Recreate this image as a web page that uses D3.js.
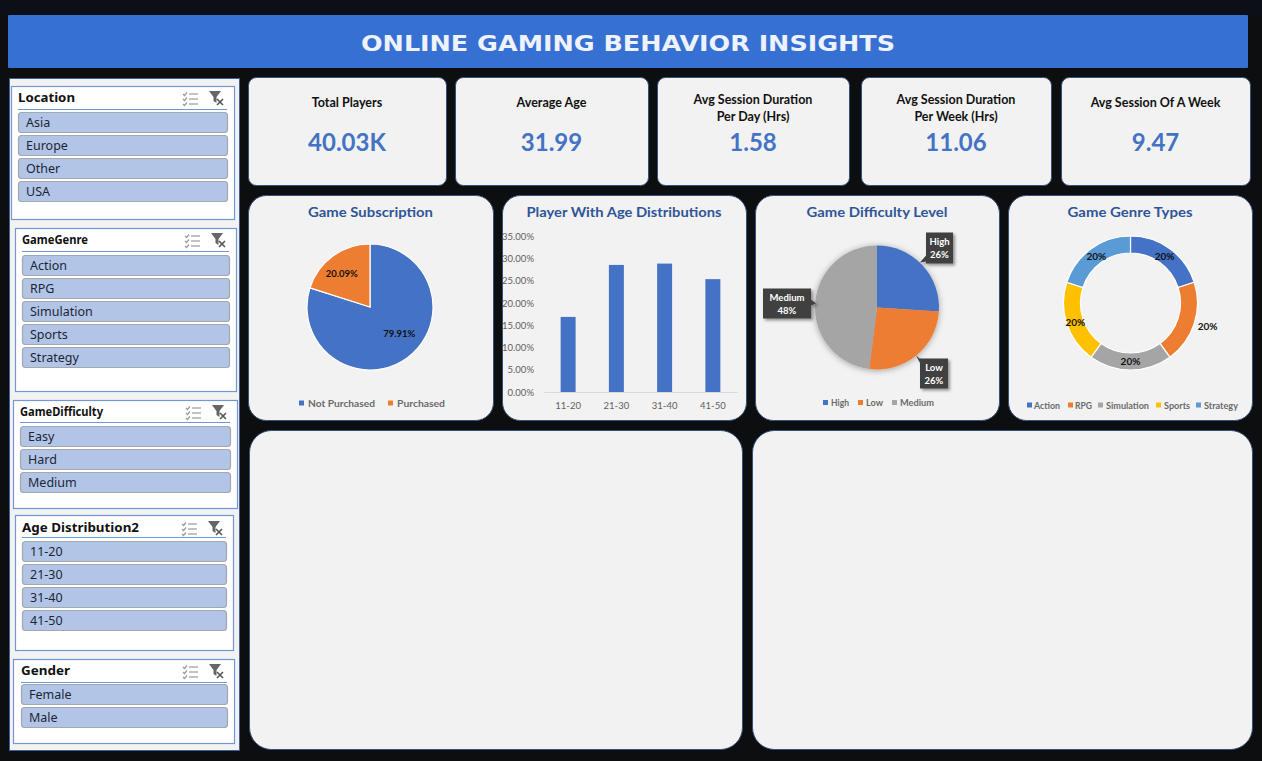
<!DOCTYPE html>
<html>
<head>
<meta charset="utf-8">
<title>Online Gaming Behavior Insights</title>
<script src="https://cdn.jsdelivr.net/npm/d3@7"></script>
<style>
  html, body { margin: 0; padding: 0; background: #0d0e10; overflow: hidden; }
  svg { display: block; }
  text { font-family: Lato, "Open Sans", sans-serif; }
  .slicer-item { font-family: "Noto Sans", sans-serif; font-size: 12.5px; fill: #1c2536; }
  .slicer-title { font-family: "Noto Sans", sans-serif; font-weight: 700; fill: #111; }
  .legend-text { font-size: 9.5px; font-weight: 700; fill: #6a6a6a; }
  .axis-tick { font-size: 9.5px; fill: #5f5f5f; }
</style>
</head>
<body>
<div id="dashboard"></div>
<script>
// Data
const titleText = "ONLINE GAMING BEHAVIOR INSIGHTS";

const kpiLabels = [["Total Players"], ["Average Age"], ["Avg Session Duration", "Per Day (Hrs)"], ["Avg Session Duration", "Per Week (Hrs)"], ["Avg Session Of A Week"]];
const kpiValues = ["40.03K", "31.99", "1.58", "11.06", "9.47"];

const locations = ["Asia", "Europe", "Other", "USA"];
const gameGenres = ["Action", "RPG", "Simulation", "Sports", "Strategy"];
const gameDifficulties = ["Easy", "Hard", "Medium"];
const ageGroups = ["11-20", "21-30", "31-40", "41-50"];
const genders = ["Female", "Male"];

const subscriptionLabels = ["Not Purchased", "Purchased"];
const subscriptionValues = [79.91, 20.09];

const ageTicks = [0, 5, 10, 15, 20, 25, 30, 35];
const agePercents = [16.9, 28.6, 28.9, 25.4];

const difficultyLabels = ["High", "Low", "Medium"];
const difficultyValues = [26, 26, 48];

const genreLabels = gameGenres;
const genreValues = [20, 20, 20, 20, 20];

// Colours
const officeColors = ["#4472c4", "#ed7d31", "#a5a5a5", "#ffc000", "#5b9bd5"];
const cardFill = "#f2f2f2";
const cardStroke = "#34507c";
const titleBlue = "#2f5597";

// Layout
const width = 1262, height = 761;

const kpiCards = [
  { x: 248, w: 198 }, { x: 455, w: 193 }, { x: 657, w: 192 }, { x: 861, w: 190 }, { x: 1061, w: 189 }
];
const chartCards = [
  { x: 248, w: 245 }, { x: 502, w: 244 }, { x: 755, w: 244 }, { x: 1008, w: 244 }
];
const chartTitles = [
  { text: "Game Subscription", len: 125 },
  { text: "Player With Age Distributions", len: 195 },
  { text: "Game Difficulty Level", len: 141 },
  { text: "Game Genre Types", len: 125 }
];
const slicers = [
  { title: "Location", items: locations, x: 11, y: 86, w: 223, h: 133, ix: 18, iw: 209, titleLen: 57, titleSize: 13, titleY: 102, ruleY: 109, itemY: 112 },
  { title: "GameGenre", items: gameGenres, x: 15, y: 228, w: 221, h: 163, ix: 22, iw: 207, titleLen: 66, titleSize: 12, titleY: 244, ruleY: 251, itemY: 255 },
  { title: "GameDifficulty", items: gameDifficulties, x: 13, y: 400, w: 224, h: 108, ix: 20, iw: 210, titleLen: 83, titleSize: 12, titleY: 416, ruleY: 422, itemY: 426 },
  { title: "Age Distribution2", items: ageGroups, x: 15, y: 515, w: 218, h: 135, ix: 22, iw: 204, titleLen: 117, titleSize: 13, titleY: 532, ruleY: 537, itemY: 541 },
  { title: "Gender", items: genders, x: 13, y: 659, w: 221, h: 84, ix: 21, iw: 206, titleLen: 49, titleSize: 13, titleY: 675, ruleY: 682, itemY: 684 }
];

const svg = d3.select("#dashboard").append("svg")
  .attr("width", width)
  .attr("height", height);

const defs = svg.append("defs");
defs.append("filter").attr("id", "pieShadow")
  .attr("x", "-20%").attr("y", "-20%").attr("width", "140%").attr("height", "140%")
  .append("feDropShadow")
  .attr("dx", 0).attr("dy", 1).attr("stdDeviation", 3)
  .attr("flood-color", "#000").attr("flood-opacity", 0.35);
defs.append("filter").attr("id", "boxShadow")
  .attr("x", "-30%").attr("y", "-30%").attr("width", "160%").attr("height", "160%")
  .append("feDropShadow")
  .attr("dx", 2).attr("dy", 2).attr("stdDeviation", 1.5)
  .attr("flood-color", "#000").attr("flood-opacity", 0.4);

// Page background and top strip
svg.append("rect").attr("width", width).attr("height", height).attr("fill", "#0d0e10");
svg.append("rect").attr("width", width).attr("height", 14).attr("fill", "#0c0f18");

// Banner
svg.append("rect")
  .attr("x", 8).attr("y", 15).attr("width", 1240).attr("height", 53).attr("rx", 1)
  .attr("fill", "#3670d2");
svg.append("text")
  .attr("x", 361).attr("y", 51)
  .attr("textLength", 534).attr("lengthAdjust", "spacingAndGlyphs")
  .style("font-family", "'DejaVu Sans', sans-serif")
  .style("font-size", "22px").style("font-weight", 700)
  .attr("fill", "#eef2fb")
  .text(titleText);

// Cards
function card(x, y, w, h, r) {
  return svg.append("rect")
    .attr("x", x + 0.5).attr("y", y + 0.5).attr("width", w).attr("height", h).attr("rx", r)
    .attr("fill", cardFill).attr("stroke", cardStroke).attr("stroke-width", 1);
}

// KPI row
kpiCards.forEach((c, i) => {
  card(c.x, 77, c.w, 108, 8);
  const cx = c.x + c.w / 2;
  const lines = kpiLabels[i];
  lines.forEach((line, j) => {
    svg.append("text")
      .attr("x", cx)
      .attr("y", lines.length > 1 ? 104 + j * 16.5 : 106.5)
      .attr("text-anchor", "middle")
      .style("font-size", "12.5px").style("font-weight", 700)
      .attr("fill", "#111")
      .text(line);
  });
  svg.append("text")
    .attr("x", cx).attr("y", 151)
    .attr("text-anchor", "middle")
    .style("font-size", "24px").style("font-weight", 700)
    .attr("fill", "#4472c4")
    .text(kpiValues[i]);
});

// Chart cards with titles
chartCards.forEach((c, i) => {
  card(c.x, 195, c.w, 225, 18);
  svg.append("text")
    .attr("x", c.x + c.w / 2 - chartTitles[i].len / 2).attr("y", 216.5)
    .attr("textLength", chartTitles[i].len).attr("lengthAdjust", "spacingAndGlyphs")
    .style("font-size", "14px").style("font-weight", 700)
    .attr("fill", titleBlue)
    .text(chartTitles[i].text);
});

// Two empty lower panels
card(249, 430, 493, 319, 22);
card(752, 430, 500, 319, 22);

// Slicer panel
svg.append("rect")
  .attr("x", 9.5).attr("y", 78.5).attr("width", 230).attr("height", 672)
  .attr("fill", "#f2f2f2").attr("stroke", "#3f5f97");

const icons = (g, x, y) => {
  // multi-select checklist
  const list = g.append("g").attr("transform", `translate(${x},${y})`)
    .attr("stroke", "#9a9a9a").attr("stroke-width", 1.2).attr("fill", "none");
  [1, 6, 11].forEach(dy => {
    list.append("path").attr("d", `M0 ${dy}l1.5 1.5 2.5-3`);
    list.append("line").attr("x1", 6).attr("x2", 15).attr("y1", dy).attr("y2", dy);
  });
  // clear filter
  const f = g.append("g").attr("transform", `translate(${x + 26},${y - 2})`);
  f.append("path").attr("d", "M0 0h12l-4.5 6v6l-3-2v-4z").attr("fill", "#666");
  f.append("path").attr("d", "M8 8l6 6M14 8l-6 6").attr("stroke", "#555").attr("stroke-width", 1.6);
};

slicers.forEach(s => {
  const g = svg.append("g");
  g.append("rect")
    .attr("x", s.x + 0.5).attr("y", s.y + 0.5).attr("width", s.w).attr("height", s.h)
    .attr("fill", "#fff").attr("stroke", "#7396d6").attr("stroke-width", 1.2);
  g.append("text").attr("class", "slicer-title")
    .attr("x", s.ix).attr("y", s.titleY)
    .attr("textLength", s.titleLen).attr("lengthAdjust", "spacingAndGlyphs")
    .style("font-size", s.titleSize + "px")
    .text(s.title);
  g.append("line")
    .attr("x1", s.ix).attr("x2", s.ix + s.iw)
    .attr("y1", s.ruleY + 0.5).attr("y2", s.ruleY + 0.5)
    .attr("stroke", "#7396d6");
  icons(g, s.ix + s.iw - 44, s.titleY - 9);

  g.selectAll(".item").data(s.items).enter().append("rect")
    .attr("x", s.ix + 0.5)
    .attr("y", (d, i) => s.itemY + i * 23 + 0.5)
    .attr("width", s.iw).attr("height", 20).attr("rx", 3)
    .attr("fill", "#b2c5e6").attr("stroke", "#a3a7ae").attr("stroke-width", 1.2);
  g.selectAll(".item-label").data(s.items).enter().append("text")
    .attr("class", "slicer-item")
    .attr("x", s.ix + 8)
    .attr("y", (d, i) => s.itemY + i * 23 + 15)
    .text(d => d);
});

// Small helpers for the charts
const pie = d3.pie().sort(null).value(d => d);

function legend(labels, entries, y) {
  entries.forEach((e, i) => {
    svg.append("rect")
      .attr("x", e.m).attr("y", y - 2.5).attr("width", 5).attr("height", 5)
      .attr("fill", officeColors[i]);
    svg.append("text").attr("class", "legend-text")
      .attr("x", e.x).attr("y", y + 3.5)
      .attr("textLength", e.len).attr("lengthAdjust", "spacingAndGlyphs")
      .text(labels[i]);
  });
}

// Game Subscription pie
{
  const g = svg.append("g").attr("transform", "translate(370,307)");
  const arc = d3.arc().innerRadius(0).outerRadius(63);
  const labelArc = d3.arc().innerRadius(82).outerRadius(82);
  const nudges = [[5, -6], [-4, 0]];
  const slices = pie(subscriptionValues);
  g.selectAll("path").data(slices).enter().append("path")
    .attr("d", arc)
    .attr("fill", (d, i) => officeColors[i])
    .attr("stroke", "#fff").attr("stroke-width", 1.2);
  g.selectAll("text").data(slices).enter().append("text")
    .attr("transform", (d, i) => {
      const [x, y] = labelArc.centroid(d);
      return `translate(${x / 2 + nudges[i][0]},${y / 2 + nudges[i][1]})`;
    })
    .attr("text-anchor", "middle").attr("dy", "0.35em")
    .style("font-size", "9.5px").style("font-weight", 700)
    .attr("fill", "#111")
    .text(d => d.value.toFixed(2) + "%");
  legend(subscriptionLabels, [{ m: 299, x: 308, len: 67 }, { m: 388, x: 397, len: 48 }], 403);
}

// Player With Age Distributions bars
{
  const x = d3.scaleBand().domain(ageGroups).range([544, 737]).paddingInner(0.69).paddingOuter(0.345);
  const y = d3.scaleLinear().domain([0, 35]).range([392, 236.5]);

  svg.selectAll(".bar").data(agePercents).enter().append("rect")
    .attr("class", "bar")
    .attr("x", (d, i) => x(ageGroups[i]))
    .attr("y", d => y(d))
    .attr("width", x.bandwidth())
    .attr("height", d => y(0) - y(d))
    .attr("fill", officeColors[0]);

  const xAxis = svg.append("g").attr("transform", "translate(0,392)")
    .call(d3.axisBottom(x).tickSize(0).tickPadding(10));
  xAxis.select(".domain").attr("stroke", "#d9d9d9");
  xAxis.selectAll("text").attr("class", "axis-tick").attr("font-family", null).attr("font-size", null);

  const yAxis = svg.append("g").attr("transform", "translate(534,0)")
    .call(d3.axisLeft(y).tickValues(ageTicks).tickSize(0).tickPadding(0).tickFormat(d => d.toFixed(2) + "%"));
  yAxis.select(".domain").remove();
  yAxis.selectAll("text").attr("class", "axis-tick").attr("font-family", null).attr("font-size", null);
}

// Game Difficulty Level pie with callouts
{
  const cx = 877, cy = 307.5;
  const g = svg.append("g").attr("transform", `translate(${cx},${cy})`);
  const arc = d3.arc().innerRadius(0).outerRadius(62);
  const slices = pie(difficultyValues);
  g.append("g").attr("filter", "url(#pieShadow)")
    .selectAll("path").data(slices).enter().append("path")
    .attr("d", arc)
    .attr("fill", (d, i) => officeColors[i]);

  // callout boxes, given relative to the pie centre
  const callouts = [
    { x: 49, y: -75, w: 27, h: 31, tip: [43, -45], base: [49, -52] },
    { x: 43, y: 51, w: 28, h: 30, tip: [39, 48], base: [45, 53] },
    { x: -114, y: -19, w: 48, h: 30, tip: [-61, -4], base: [-66, -8] }
  ];
  callouts.forEach((c, i) => {
    const box = g.append("g").attr("filter", "url(#boxShadow)");
    box.append("path")
      .attr("d", `M${c.tip}L${c.base}L${c.base[0]},${c.base[1] + 6}Z`)
      .attr("fill", "#404040");
    box.append("rect")
      .attr("x", c.x).attr("y", c.y).attr("width", c.w).attr("height", c.h)
      .attr("fill", "#404040");
    [difficultyLabels[i], difficultyValues[i] + "%"].forEach((t, j) => {
      g.append("text")
        .attr("x", c.x + c.w / 2).attr("y", c.y + 12 + j * 13)
        .attr("text-anchor", "middle")
        .style("font-size", "9.5px").style("font-weight", 700)
        .attr("fill", "#fff")
        .text(t);
    });
  });
  legend(difficultyLabels, [{ m: 823, x: 831, len: 18 }, { m: 858, x: 866, len: 17 }, { m: 892, x: 900, len: 34 }], 402.5);
}

// Game Genre Types doughnut
{
  const g = svg.append("g").attr("transform", "translate(1130.5,303)");
  const arc = d3.arc().innerRadius(50).outerRadius(67);
  const labelArc = d3.arc().innerRadius(58).outerRadius(58);
  const nudges = [[0, 0], [22, 6], [0, 0], [0, 2], [0, 0]];
  const slices = pie(genreValues);
  g.selectAll("path").data(slices).enter().append("path")
    .attr("d", arc)
    .attr("fill", (d, i) => officeColors[i])
    .attr("stroke", "#fff").attr("stroke-width", 1.2);
  g.selectAll("text").data(slices).enter().append("text")
    .attr("transform", (d, i) => {
      const [x, y] = labelArc.centroid(d);
      return `translate(${x + nudges[i][0]},${y + nudges[i][1]})`;
    })
    .attr("text-anchor", "middle").attr("dy", "0.35em")
    .style("font-size", "10px").style("font-weight", 700)
    .attr("fill", "#111")
    .text(d => d.value + "%");
  legend(genreLabels, [
    { m: 1027, x: 1034, len: 26 }, { m: 1068, x: 1075, len: 17 }, { m: 1098, x: 1106, len: 43 },
    { m: 1156, x: 1164, len: 26 }, { m: 1196, x: 1204, len: 34 }
  ], 405);
}
</script>
</body>
</html>
